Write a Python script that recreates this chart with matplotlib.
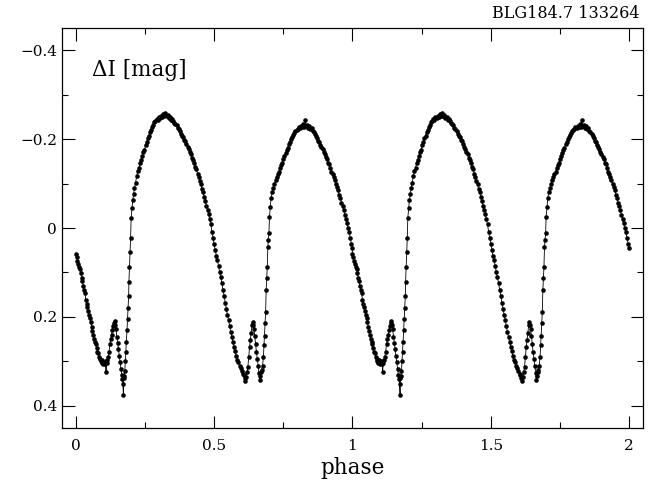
import numpy as np
import matplotlib
matplotlib.use("Agg")
import matplotlib.pyplot as plt
from matplotlib.ticker import MultipleLocator

# phased light curve, one cycle (phase, delta I)
phase = [
    0.000, 0.003, 0.006, 0.009, 0.012, 0.015, 0.018, 0.021, 0.024, 0.027,
    0.030, 0.033, 0.036, 0.039, 0.042, 0.045, 0.048, 0.051, 0.054, 0.057,
    0.060, 0.063, 0.066, 0.069, 0.072, 0.075, 0.078, 0.081, 0.084, 0.087,
    0.090, 0.093, 0.096, 0.099, 0.102, 0.105, 0.108, 0.109, 0.111, 0.114,
    0.117, 0.120, 0.123, 0.126, 0.129, 0.132, 0.135, 0.138, 0.141, 0.143,
    0.145, 0.148, 0.151, 0.154, 0.157, 0.160, 0.163, 0.166, 0.168, 0.170,
    0.172, 0.173, 0.175, 0.177, 0.179, 0.181, 0.183, 0.185, 0.187, 0.189,
    0.191, 0.192, 0.194, 0.196, 0.198, 0.200, 0.203, 0.206, 0.209, 0.212,
    0.216, 0.220, 0.224, 0.228, 0.232, 0.236, 0.240, 0.244, 0.248, 0.252,
    0.256, 0.260, 0.264, 0.268, 0.272, 0.276, 0.280, 0.284, 0.288, 0.292,
    0.296, 0.300, 0.304, 0.308, 0.312, 0.316, 0.320, 0.324, 0.328, 0.332,
    0.336, 0.340, 0.344, 0.348, 0.352, 0.356, 0.360, 0.364, 0.368, 0.372,
    0.376, 0.380, 0.384, 0.388, 0.392, 0.396, 0.400, 0.404, 0.408, 0.412,
    0.416, 0.420, 0.424, 0.428, 0.432, 0.436, 0.440, 0.444, 0.448, 0.452,
    0.456, 0.460, 0.464, 0.468, 0.472, 0.476, 0.480, 0.484, 0.488, 0.492,
    0.496, 0.500, 0.504, 0.508, 0.512, 0.516, 0.520, 0.524, 0.528, 0.532,
    0.536, 0.540, 0.544, 0.548, 0.552, 0.556, 0.560, 0.564, 0.568, 0.572,
    0.576, 0.580, 0.584, 0.588, 0.592, 0.596, 0.600, 0.604, 0.607, 0.610,
    0.613, 0.616, 0.619, 0.622, 0.625, 0.628, 0.631, 0.634, 0.637, 0.639,
    0.641, 0.644, 0.647, 0.650, 0.653, 0.656, 0.659, 0.662, 0.664, 0.666,
    0.669, 0.672, 0.675, 0.678, 0.680, 0.682, 0.684, 0.686, 0.688, 0.690,
    0.692, 0.694, 0.696, 0.698, 0.700, 0.703, 0.706, 0.710, 0.714, 0.718,
    0.722, 0.726, 0.730, 0.734, 0.738, 0.742, 0.746, 0.750, 0.754, 0.758,
    0.762, 0.766, 0.770, 0.774, 0.778, 0.782, 0.786, 0.790, 0.794, 0.798,
    0.802, 0.806, 0.810, 0.814, 0.818, 0.822, 0.826, 0.830, 0.832, 0.836,
    0.840, 0.844, 0.848, 0.852, 0.856, 0.860, 0.864, 0.868, 0.872, 0.876,
    0.880, 0.884, 0.888, 0.892, 0.896, 0.900, 0.904, 0.908, 0.912, 0.916,
    0.920, 0.924, 0.928, 0.932, 0.936, 0.940, 0.944, 0.948, 0.952, 0.956,
    0.960, 0.964, 0.968, 0.972, 0.976, 0.980, 0.984, 0.988, 0.992, 0.996,
    0.999,
]
dmag = [
    0.058, 0.066, 0.074, 0.080, 0.087, 0.093, 0.101, 0.112, 0.120, 0.131,
    0.140, 0.146, 0.161, 0.171, 0.178, 0.187, 0.196, 0.203, 0.211, 0.222,
    0.232, 0.240, 0.249, 0.256, 0.262, 0.270, 0.278, 0.282, 0.290, 0.294,
    0.300, 0.303, 0.298, 0.305, 0.301, 0.306, 0.299, 0.325, 0.303, 0.296,
    0.290, 0.279, 0.262, 0.250, 0.240, 0.229, 0.220, 0.213, 0.210, 0.218,
    0.228, 0.245, 0.259, 0.272, 0.288, 0.301, 0.318, 0.331, 0.340, 0.350,
    0.375, 0.338, 0.332, 0.322, 0.300, 0.280, 0.256, 0.230, 0.205, 0.181,
    0.152, 0.121, 0.088, 0.055, 0.023, -0.022, -0.045, -0.063, -0.077, -0.090,
    -0.102, -0.117, -0.128, -0.136, -0.146, -0.154, -0.162, -0.170, -0.176, -0.186,
    -0.193, -0.202, -0.208, -0.216, -0.221, -0.228, -0.231, -0.238, -0.241, -0.245,
    -0.243, -0.250, -0.247, -0.253, -0.249, -0.256, -0.251, -0.259, -0.252, -0.254,
    -0.248, -0.250, -0.243, -0.245, -0.240, -0.236, -0.233, -0.231, -0.226, -0.222,
    -0.218, -0.212, -0.206, -0.205, -0.199, -0.196, -0.188, -0.183, -0.178, -0.170,
    -0.167, -0.158, -0.152, -0.146, -0.137, -0.132, -0.122, -0.114, -0.106, -0.098,
    -0.087, -0.080, -0.069, -0.061, -0.050, -0.041, -0.031, -0.020, -0.008, 0.008,
    0.022, 0.036, 0.050, 0.062, 0.073, 0.085, 0.100, 0.111, 0.124, 0.140,
    0.152, 0.168, 0.182, 0.195, 0.207, 0.220, 0.235, 0.246, 0.257, 0.268,
    0.276, 0.288, 0.296, 0.302, 0.311, 0.316, 0.322, 0.328, 0.331, 0.337,
    0.344, 0.336, 0.325, 0.312, 0.290, 0.268, 0.252, 0.236, 0.218, 0.212,
    0.218, 0.228, 0.244, 0.262, 0.280, 0.294, 0.310, 0.326, 0.341, 0.333,
    0.324, 0.320, 0.310, 0.290, 0.264, 0.242, 0.213, 0.190, 0.140, 0.113,
    0.088, 0.043, 0.027, 0.011, -0.025, -0.048, -0.068, -0.082, -0.091, -0.099,
    -0.107, -0.114, -0.121, -0.127, -0.134, -0.141, -0.147, -0.155, -0.161, -0.168,
    -0.175, -0.181, -0.188, -0.193, -0.200, -0.205, -0.209, -0.214, -0.218, -0.221,
    -0.223, -0.227, -0.225, -0.230, -0.228, -0.233, -0.227, -0.243, -0.229, -0.231,
    -0.226, -0.229, -0.223, -0.224, -0.218, -0.216, -0.212, -0.207, -0.203, -0.196,
    -0.194, -0.186, -0.183, -0.177, -0.171, -0.167, -0.159, -0.156, -0.146, -0.143,
    -0.134, -0.127, -0.122, -0.114, -0.107, -0.099, -0.092, -0.085, -0.074, -0.068,
    -0.057, -0.049, -0.040, -0.030, -0.021, -0.011, -0.001, 0.010, 0.022, 0.036,
    0.046,
]

title = "BLG184.7 133264"
xticks = [0, 0.5, 1, 1.5, 2]
yticks = [-0.4, -0.2, 0, 0.2, 0.4]

# the curve is plotted twice, phase 0-1 and 1-2
x = np.concatenate([phase, np.array(phase) + 1])
y = np.concatenate([dmag, dmag])

plt.rcParams['font.family'] = 'DejaVu Serif'

fig = plt.figure(figsize=(6.51, 4.83), dpi=100)
ax = fig.add_axes([0.0952, 0.1139, 0.8925, 0.8281])

ax.plot(x, y, '-', color='black', lw=0.6)
ax.plot(x, y, 'o', color='black', ms=3.3, mew=0)

ax.set_xlim(-0.05, 2.05)
ax.set_ylim(0.45, -0.45)
ax.set_xticks(xticks)
ax.set_xticklabels(['0', '0.5', '1', '1.5', '2'])
ax.set_yticks(yticks)
ax.set_yticklabels(['\u22120.4', '\u22120.2', '0', '0.2', '0.4'])
ax.xaxis.set_minor_locator(MultipleLocator(0.25))
ax.yaxis.set_minor_locator(MultipleLocator(0.1))
ax.tick_params(which='both', direction='in', top=True, right=True,
               labelsize=11, width=0.8)
ax.tick_params(which='major', length=9)
ax.tick_params(which='minor', length=4.5)
ax.tick_params(axis='x', pad=8)
for s in ax.spines.values():
    s.set_linewidth(0.9)

ax.set_xlabel('phase', fontsize=15.5, labelpad=3)
ax.text(0.057, -0.355, '\u0394I [mag]', fontsize=15.5, va='center', ha='left')
fig.text(0.983, 0.972, title, fontsize=11.5, ha='right', va='center')

fig.savefig('out.png', dpi=100)
